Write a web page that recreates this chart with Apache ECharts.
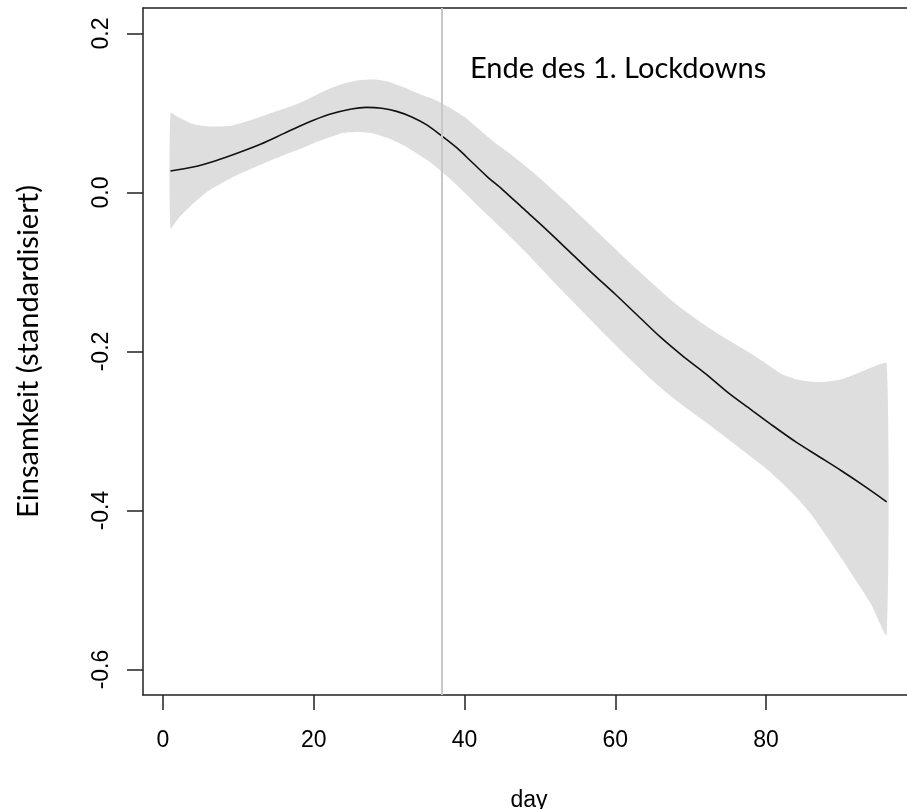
<!DOCTYPE html>
<html>
<head>
<meta charset="utf-8">
<title>Einsamkeit</title>
<script src="https://cdn.jsdelivr.net/npm/echarts@6/dist/echarts.min.js"></script>
<style>
  html, body { margin: 0; padding: 0; background: #fff; }
  #chart { width: 907px; height: 809px; }
</style>
</head>
<body>
<div id="chart"></div>
<script>
// Smoothed estimate of loneliness over the study days
const fitDays = [1, 4, 7, 10, 13, 16, 19, 22, 25, 27, 29, 31, 33, 35, 37, 39, 41, 43, 45, 48, 51, 54, 57, 60, 63, 66, 69, 72, 75, 78, 81, 84, 87, 90, 93, 96];
const fitValues = [0.027, 0.032, 0.040, 0.050, 0.061, 0.074, 0.087, 0.098, 0.105, 0.107, 0.106, 0.102, 0.095, 0.085, 0.071, 0.056, 0.038, 0.020, 0.004, -0.022, -0.048, -0.075, -0.102, -0.128, -0.155, -0.182, -0.206, -0.228, -0.252, -0.273, -0.294, -0.314, -0.332, -0.350, -0.369, -0.389];

// Confidence band around the estimate
const bandDays = [1, 2, 4, 6, 9, 12, 15, 18, 20, 22, 24, 26, 28, 30, 32, 34, 36, 38, 40, 42, 44, 46, 48, 50, 53, 56, 59, 62, 65, 68, 71, 74, 77, 80, 82, 84, 86, 88, 90, 92, 94, 96];
const bandUpper = [0.100, 0.095, 0.086, 0.083, 0.084, 0.092, 0.102, 0.112, 0.121, 0.130, 0.137, 0.141, 0.142, 0.139, 0.132, 0.124, 0.117, 0.107, 0.095, 0.079, 0.063, 0.049, 0.034, 0.018, -0.008, -0.035, -0.062, -0.089, -0.115, -0.140, -0.161, -0.180, -0.197, -0.215, -0.228, -0.235, -0.238, -0.238, -0.235, -0.228, -0.220, -0.215];
const bandLower = [-0.045, -0.033, -0.014, 0.002, 0.018, 0.031, 0.043, 0.054, 0.062, 0.069, 0.075, 0.076, 0.074, 0.068, 0.059, 0.047, 0.034, 0.018, 0.000, -0.019, -0.037, -0.055, -0.074, -0.094, -0.124, -0.153, -0.182, -0.210, -0.237, -0.261, -0.282, -0.303, -0.325, -0.347, -0.364, -0.383, -0.405, -0.432, -0.460, -0.489, -0.519, -0.556];

// Axis ticks and the marked day
const xTicks = [0, 20, 40, 60, 80];
const yTicks = [-0.6, -0.4, -0.2, 0.0, 0.2];
const lockdownEndDay = 37;
const lockdownLabel = 'Ende des 1. Lockdowns';
const xTitle = 'day';
const yTitle = 'Einsamkeit (standardisiert)';

const chart = echarts.init(document.getElementById('chart'), null, { renderer: 'canvas' });

const axisColor = '#222';
const tickFont = 'Liberation Sans';
const textFont = 'Lato';

const option = {
  backgroundColor: '#fff',
  animation: false,
  grid: { left: 143, right: 0, top: 8, bottom: 114, containLabel: false, outerBoundsMode: 'none' },
  xAxis: [
    {
      type: 'value',
      position: 'bottom',
      min: -2.65,
      max: 98.7,
      name: xTitle,
      nameLocation: 'middle',
      nameGap: 94,
      nameTextStyle: { fontFamily: tickFont, fontSize: 23, color: '#000', padding: [0, 0, 0, 8] },
      axisLine: { show: true, onZero: false, lineStyle: { color: axisColor, width: 1.5 } },
      axisTick: { show: true, inside: false, length: 15, customValues: xTicks, lineStyle: { color: axisColor, width: 1.5 } },
      axisLabel: { customValues: xTicks, margin: 34, fontFamily: tickFont, fontSize: 23, color: '#000' },
      splitLine: { show: false }
    },
    {
      type: 'value',
      position: 'top',
      min: -2.65,
      max: 98.7,
      axisLine: { show: true, onZero: false, lineStyle: { color: axisColor, width: 1.5 } },
      axisTick: { show: false },
      axisLabel: { show: false },
      splitLine: { show: false }
    }
  ],
  yAxis: {
    type: 'value',
    min: -0.632,
    max: 0.232,
    name: yTitle,
    nameLocation: 'middle',
    nameRotate: 90,
    nameGap: 100,
    nameTextStyle: { fontFamily: textFont, fontSize: 29, color: '#000' },
    axisLine: { show: true, onZero: false, lineStyle: { color: axisColor, width: 1.5 } },
    axisTick: { show: true, inside: false, length: 16, customValues: yTicks, lineStyle: { color: axisColor, width: 1.5 } },
    axisLabel: {
      customValues: yTicks,
      rotate: 90,
      margin: 30,
      fontFamily: tickFont,
      fontSize: 23,
      color: '#000',
      formatter: v => v.toFixed(1)
    },
    splitLine: { show: false }
  },
  graphic: [
    {
      type: 'text',
      left: 470,
      top: 54,
      style: { text: lockdownLabel, fontFamily: textFont, fontSize: 29, fill: '#000' },
      z: 10
    }
  ],
  series: [
    {
      type: 'custom',
      name: 'band',
      coordinateSystem: 'cartesian2d',
      data: bandDays.map((d, i) => [d, bandLower[i], bandUpper[i]]),
      encode: { x: 0, y: [1, 2] },
      silent: true,
      z: 1,
      renderItem: function (params, api) {
        if (params.dataIndex !== 0) return null;
        const pts = [];
        for (let i = 0; i < bandDays.length; i++) pts.push(api.coord([bandDays[i], bandUpper[i]]));
        for (let i = bandDays.length - 1; i >= 0; i--) pts.push(api.coord([bandDays[i], bandLower[i]]));
        return {
          type: 'polygon',
          shape: { points: pts, smooth: 0.2 },
          style: { fill: '#dedede', stroke: null }
        };
      }
    },
    {
      type: 'line',
      name: 'fit',
      data: fitDays.map((d, i) => [d, fitValues[i]]),
      smooth: 0.3,
      showSymbol: false,
      silent: true,
      z: 3,
      lineStyle: { color: '#111', width: 1.6 },
      markLine: {
        silent: true,
        symbol: 'none',
        label: { show: false },
        lineStyle: { color: '#c8c8c8', width: 2, type: 'solid' },
        data: [{ xAxis: lockdownEndDay }]
      }
    }
  ]
};

chart.setOption(option);
</script>
</body>
</html>
